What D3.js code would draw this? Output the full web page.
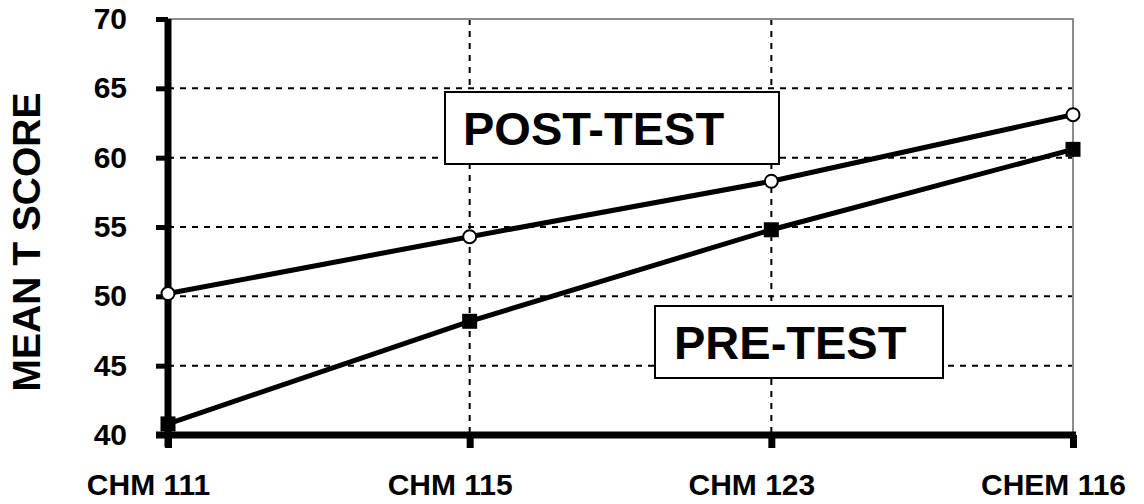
<!DOCTYPE html>
<meta charset="utf-8">
<style>
  body { margin: 0; background: #fff; }
  text { font-family: Arial, "Liberation Sans", sans-serif; font-weight: bold; }
</style>
<script src="https://cdn.jsdelivr.net/npm/d3@7"></script>
<div id="chart"></div>
<script>
  // data
  var courses = ["CHM 111", "CHM 115", "CHM 123", "CHEM 116"];
  var postTest = [50.2, 54.3, 58.3, 63.1];
  var preTest = [40.8, 48.2, 54.8, 60.6];
  var yTicks = [40, 45, 50, 55, 60, 65, 70];

  var width = 1144, height = 504;
  var plotL = 168, plotR = 1073, plotT = 19, plotB = 435;

  var svg = d3.select("#chart").append("svg")
      .attr("width", width)
      .attr("height", height);

  var x = d3.scalePoint().domain(courses).range([plotL, plotR]);
  var y = d3.scaleLinear().domain([40, 70]).range([plotB, plotT]);

  // horizontal dashed grid
  svg.append("g").selectAll("line")
    .data(yTicks.filter(function(d) { return d > 40 && d < 70; }))
    .enter().append("line")
      .attr("x1", plotL).attr("x2", plotR)
      .attr("y1", function(d) { return y(d); })
      .attr("y2", function(d) { return y(d); })
      .attr("stroke", "#000").attr("stroke-width", 2)
      .attr("stroke-dasharray", "6,6");

  // vertical dashed grid
  svg.append("g").selectAll("line")
    .data(courses.slice(1, 3))
    .enter().append("line")
      .attr("x1", function(d) { return x(d); })
      .attr("x2", function(d) { return x(d); })
      .attr("y1", plotT).attr("y2", plotB)
      .attr("stroke", "#000").attr("stroke-width", 2)
      .attr("stroke-dasharray", "6,6");

  // grey frame top and right
  svg.append("path")
    .attr("d", "M" + plotL + "," + plotT + "H" + plotR + "V" + plotB)
    .attr("fill", "none").attr("stroke", "#8c8c8c").attr("stroke-width", 2);

  // y axis
  var yAxis = svg.append("g")
    .attr("transform", "translate(" + plotL + ",0)")
    .call(d3.axisLeft(y).tickValues(yTicks).tickSize(12).tickPadding(29));
  yAxis.select(".domain").attr("stroke", "#000").attr("stroke-width", 7)
    .attr("d", "M0," + plotT + "V" + (plotB + 12));
  yAxis.selectAll(".tick line").attr("stroke", "#000").attr("stroke-width", 5);
  yAxis.selectAll(".tick text").attr("fill", "#000")
    .style("font-size", "30px")
    .style("font-family", "Arial, 'Liberation Sans', sans-serif").style("font-weight", "bold");

  // x axis
  var xAxis = svg.append("g")
    .attr("transform", "translate(0," + plotB + ")")
    .call(d3.axisBottom(x).tickSize(13).tickPadding(26));
  xAxis.select(".domain").attr("stroke", "#000").attr("stroke-width", 7)
    .attr("d", "M" + (plotL - 12) + ",0H" + (plotR + 3));
  xAxis.selectAll(".tick line").attr("stroke", "#000").attr("stroke-width", 7);
  xAxis.selectAll(".tick text").attr("fill", "#000").attr("dx", -20)
    .style("font-size", "30px")
    .style("font-family", "Arial, 'Liberation Sans', sans-serif").style("font-weight", "bold");

  // y title
  svg.append("text")
    .attr("transform", "translate(40,242) rotate(-90)")
    .attr("text-anchor", "middle")
    .style("font-size", "39px")
    .text("MEAN T SCORE");

  var line = d3.line()
    .x(function(d, i) { return x(courses[i]); })
    .y(function(d) { return y(d); });

  svg.append("path").datum(preTest)
    .attr("d", line).attr("fill", "none").attr("stroke", "#000").attr("stroke-width", 5);
  svg.append("path").datum(postTest)
    .attr("d", line).attr("fill", "none").attr("stroke", "#000").attr("stroke-width", 5);

  svg.append("g").selectAll("rect")
    .data(preTest).enter().append("rect")
      .attr("x", function(d, i) { return x(courses[i]) - 7.5; })
      .attr("y", function(d) { return y(d) - 7.5; })
      .attr("width", 15).attr("height", 15)
      .attr("fill", "#000");

  svg.append("g").selectAll("circle")
    .data(postTest).enter().append("circle")
      .attr("cx", function(d, i) { return x(courses[i]); })
      .attr("cy", function(d) { return y(d); })
      .attr("r", 6.5)
      .attr("fill", "#fff").attr("stroke", "#000").attr("stroke-width", 2);

  // label boxes
  function labelBox(x0, y0, w, h, tx, ty, label) {
    svg.append("rect")
      .attr("x", x0).attr("y", y0).attr("width", w).attr("height", h)
      .attr("fill", "#fff").attr("stroke", "#000").attr("stroke-width", 2);
    svg.append("text")
      .attr("x", tx).attr("y", ty)
      .style("font-size", "47px")
      .text(label);
  }
  labelBox(445, 92, 334, 72, 463, 145, "POST-TEST");
  labelBox(655, 306, 288, 72, 674, 359, "PRE-TEST");
</script>
